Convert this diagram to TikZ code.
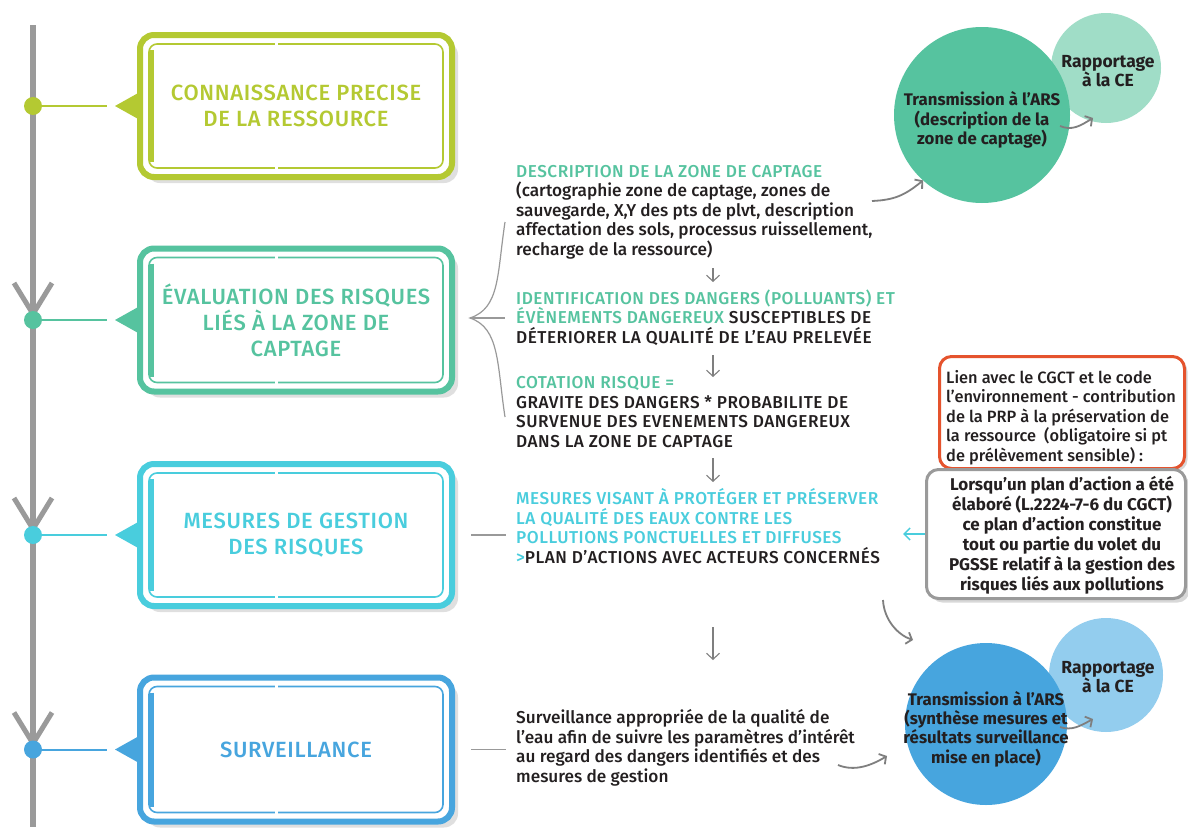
\documentclass[tikz,border=0pt]{standalone}
\usepackage{fontspec}
\setmainfont{Fira Sans}
\newfontfamily\bodyfamily{Fira Sans Medium}
\newfontfamily\capsfont{Fira Sans Medium}[LetterSpace=3.0]
\newfontfamily\stagefont{Fira Sans Medium}[LetterSpace=3.0]
\usetikzlibrary{arrows.meta, positioning, shadows}

\definecolor{lime}{HTML}{B4C932}
\definecolor{mint}{HTML}{56C39F}
\definecolor{mintlight}{HTML}{A0DDC7}
\definecolor{aqua}{HTML}{49CDDD}
\definecolor{sky}{HTML}{47A5DE}
\definecolor{skylight}{HTML}{93CDEE}
\definecolor{brick}{HTML}{E5532D}
\definecolor{ink}{HTML}{231F20}
\definecolor{railgray}{HTML}{9A9A9A}
\definecolor{linkgray}{HTML}{7F7F7F}

\newcommand{\titlefont}{\stagefont\fontsize{22}{26}\selectfont}
\newcommand{\bodyfont}{\bodyfamily\fontsize{17.2}{19.4}\selectfont}

\begin{document}
\begin{tikzpicture}[
    x=1pt, y=-1pt,
    stagebox/.style={draw=#1, line width=6pt, outer sep=0pt, rounded corners=14pt,
        fill=white, minimum width=312pt, minimum height=142pt, align=center,
        text=#1, font=\titlefont,
        drop shadow={opacity=0.25, shadow xshift=6pt, shadow yshift=-6pt}},
    textblock/.style={anchor=base west, align=left, inner sep=0pt, font=\bodyfont, text=ink},
    capsblock/.style={textblock, font=\bodyfont\capsfont},
    disc/.style={circle, fill=#1, inner sep=0pt, outer sep=0pt},
    disctext/.style={align=center, inner sep=0pt, font=\fontsize{16.8}{19.4}\selectfont\bfseries, text=ink},
    flow/.style={draw=linkgray, line width=1.1pt, -{Straight Barb[length=6pt, width=13pt]}},
    curvy/.style={draw=linkgray, line width=1.8pt, -{Straight Barb[length=5pt, width=12pt]}},
    link/.style={draw=linkgray!80, line width=1.2pt},
]
\useasboundingbox (0,0) rectangle (1188,827);
\fill[white] (0,0) rectangle (1188,827);

% timeline
\coordinate (rail) at (33,25);
\coordinate (rail end) at (33,827);
\draw[railgray, line width=6pt] (rail) -- (rail end);

% stages
\node[stagebox=lime] (conn) at (296,106) {CONNAISSANCE PRECISE\\DE LA RESSOURCE};
\node[stagebox=mint, minimum height=143pt] (eval) at (296,320) {ÉVALUATION DES RISQUES\\LIÉS À LA ZONE DE\\CAPTAGE};
\node[stagebox=aqua] (gest) at (296,535) {MESURES DE GESTION\\DES RISQUES};
\node[stagebox=sky, minimum height=144pt] (surv) at (296,749.5) {SURVEILLANCE};

\foreach \n/\c in {conn/lime, eval/mint, gest/aqua, surv/sky}{
    \fill[\c] ([xshift=-25pt]\n.west) -- ([yshift=14pt]\n.west) -- ([yshift=-14pt]\n.west) -- cycle;
    \draw[\c, line width=1.6pt, rounded corners=8pt] ([shift={(9pt,-9pt)}]\n.north west) rectangle ([shift={(-9pt,9pt)}]\n.south east);
    \draw[\c, line width=5pt] ([shift={(11pt,-15pt)}]\n.north west) -- ([shift={(11pt,15pt)}]\n.south west);
    \fill[white] ([shift={(-21pt,-5pt)}]\n.north) rectangle ++(2.5pt,-8pt);
    \fill[white] ([shift={(-21pt,5pt)}]\n.south) rectangle ++(2.5pt,8pt);
    \coordinate (\n-dot) at (rail |- \n.west);
    \draw[\c, line width=2pt] (\n-dot) -- ([xshift=-33pt]\n.west);
}
\foreach \n in {eval, gest, surv}
    \draw[railgray, line width=5pt] ([shift={(-19pt,37pt)}]\n-dot) -- ([shift={(0pt,6pt)}]\n-dot) -- ([shift={(19pt,37pt)}]\n-dot);
\foreach \n/\c in {conn/lime, eval/mint, gest/aqua, surv/sky}
    \fill[\c] (\n-dot) circle (9pt);

% middle column (nodes sit on the baseline of their last line)
\node[textblock] (desc) at (516,255) {{\capsfont\textcolor{mint}{DESCRIPTION DE LA ZONE DE CAPTAGE}}\\(cartographie zone de captage, zones de\\sauvegarde, X,Y des pts de plvt, description\\affectation des sols, processus ruissellement,\\recharge de la ressource)};
\node[capsblock] (ident) at (516,343) {\textcolor{mint}{IDENTIFICATION DES DANGERS (POLLUANTS) ET}\\\textcolor{mint}{ÉVÈNEMENTS DANGEREUX} SUSCEPTIBLES DE\\DÉTERIORER LA QUALITÉ DE L’EAU PRELEVÉE};
\node[capsblock] (cot) at (516,447) {\textcolor{mint}{COTATION RISQUE =}\\GRAVITE DES DANGERS * PROBABILITE DE\\SURVENUE DES EVENEMENTS DANGEREUX\\DANS LA ZONE DE CAPTAGE};
\node[capsblock] (mes) at (516,563) {\textcolor{aqua}{MESURES VISANT À PROTÉGER ET PRÉSERVER}\\\textcolor{aqua}{LA QUALITÉ DES EAUX CONTRE LES}\\\textcolor{aqua}{POLLUTIONS PONCTUELLES ET DIFFUSES}\\\textcolor{aqua}{>}PLAN D’ACTIONS AVEC ACTEURS CONCERNÉS};
\node[textblock] (watch) at (516,782) {Surveillance appropriée de la qualité de\\l’eau afin de suivre les paramètres d’intérêt\\au regard des dangers identifiés et des\\mesures de gestion};

\coordinate (col) at (713,0);
\draw[flow] ([yshift=-13pt]desc.base -| col) -- ([yshift=61pt]ident.base -| col);
\draw[flow] ([yshift=-12pt]ident.base -| col) -- ([yshift=70pt]cot.base -| col);
\draw[flow] ([yshift=-11pt]cot.base -| col) -- ([yshift=81pt]mes.base -| col);
\draw[flow] ([yshift=-64pt]mes.base -| col) -- ([yshift=122pt]watch.base -| col);

% links from the stages
\coordinate (brace tip) at (470,318);
\draw[link] (505,222) .. controls (497,275) and (500,308) .. (brace tip) .. controls (500,328) and (497,365) .. (505,417);
\draw[link] (brace tip) -- ([xshift=-11pt]brace tip -| ident.west);
\draw[link] ([xshift=19pt]gest.east) -- ([xshift=-10pt]gest.east -| mes.west);
\draw[link] ([xshift=19pt]surv.east) -- ([xshift=-10pt]surv.east -| watch.west);

% top discs
\node[disc=mintlight, minimum size=110pt] (rap1) at (1106,68) {};
\node[disc=mint, minimum size=176pt] (ars1) at (982,115) {};
\node[disctext] (ars1 txt) at (982,120) {Transmission à l’ARS\\(description de la\\zone de captage)};
\node[disctext, font=\fontsize{17.5}{19.4}\selectfont\bfseries] (rap1 txt) at (1108,71) {Rapportage\\à la CE};
\coordinate (desc out) at (872,201);
\draw[curvy] (desc out) .. controls (895,200) and (905,195) .. (ars1.228);
\coordinate (ars1 out) at (1060,126);
\draw[curvy] (ars1 out) .. controls (1072,131) and (1080,126) .. (1093,118);

% side notes
\node[draw=brick, line width=3pt, rounded corners=12pt, fill=white, minimum width=245pt, minimum height=112pt,
      drop shadow={opacity=0.3, shadow xshift=3pt, shadow yshift=-3pt}] (lien) at (1062,412.5) {};
\node[textblock, font=\bodyfamily\fontsize{16.4}{19.5}\selectfont] (lien txt) at (946,461) {Lien avec le CGCT et le code\\l’environnement - contribution\\de la PRP à la préservation de\\la ressource~ (obligatoire si pt\\de prélèvement sensible) :};
\node[draw=railgray, line width=3pt, rounded corners=12pt, fill=white, minimum width=259pt, minimum height=129pt,
      drop shadow={opacity=0.3, shadow xshift=4pt, shadow yshift=-4pt}] (pgsse) at (1056,534) {};
\node[disctext, anchor=base, font=\fontsize{17}{20}\selectfont\bfseries] (pgsse txt) at (1062,590) {Lorsqu’un plan d’action a été\\élaboré (L.2224-7-6 du CGCT)\\ce plan d’action constitue\\tout ou partie du volet du\\PGSSE relatif à la gestion des\\risques liés aux pollutions};
\draw[aqua, line width=1.5pt, -{Straight Barb[length=6pt, width=12pt]}] (pgsse.west) -- ([xshift=-22pt]pgsse.west);

% bottom discs
\node[disc=skylight, minimum size=114pt] (rap2) at (1106,675) {};
\node[disc=sky, minimum size=162pt] (ars2) at (986,724) {};
\node[disctext] (ars2 txt) at (986,729) {Transmission à l’ARS\\(synthèse mesures et\\résultats surveillance\\mise en place)};
\node[disctext, font=\fontsize{17.5}{19.4}\selectfont\bfseries] (rap2 txt) at (1108,677) {Rapportage\\à la CE};
\coordinate (pgsse out) at (883,600);
\coordinate (ars2 in) at (913,640);
\draw[curvy] (pgsse out) .. controls (884,620) and (898,635) .. (ars2 in);
\coordinate (watch out) at (838,765);
\coordinate (ars2 side) at (887,756);
\draw[curvy] (watch out) .. controls (855,772) and (872,765) .. (ars2 side);
\coordinate (ars2 out) at (1060,727);
\draw[curvy] (ars2 out) .. controls (1072,731) and (1080,726) .. (1093,719);
\end{tikzpicture}
\end{document}
